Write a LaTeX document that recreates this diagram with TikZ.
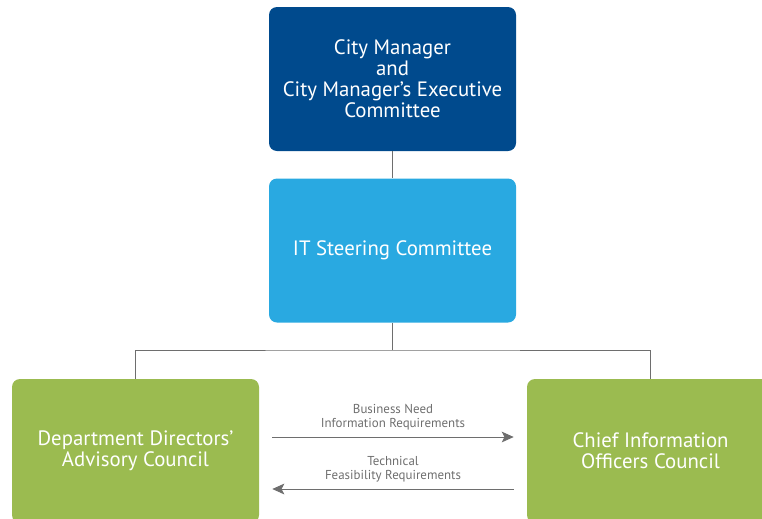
\documentclass[tikz,border=0pt]{standalone}
\usepackage{fontspec}
\setmainfont{PT Sans}
\usetikzlibrary{arrows.meta,positioning}
\definecolor{mgrblue}{HTML}{004A8D}
\definecolor{stcblue}{HTML}{29A9E1}
\definecolor{cclgreen}{HTML}{9BBB50}
\definecolor{linegray}{HTML}{6E6E6E}

\begin{document}
\begin{tikzpicture}[x=0.75pt, y=-0.75pt,
box/.style={rounded corners=6pt, minimum width=185.25pt, minimum height=108pt, align=center, text=white, font=\fontsize{15.6}{15.75}\selectfont, inner sep=0pt},
link/.style={draw=linegray, line width=0.75pt},
flow/.style={link, -{Stealth[length=9pt, width=8pt, inset=2pt]}, shorten >=9.75pt, shorten <=9.75pt},
tag/.style={text=linegray, font=\fontsize{9.7}{10.5}\selectfont, align=center, inner sep=0pt}]
\useasboundingbox (0,0) rectangle (762,518);
\clip (0,0) rectangle (762,518);

\node[box, fill=mgrblue] (cm) at (392.5,79) {City Manager\\and\\City Manager’s Executive\\Committee};
\node[box, fill=stcblue] (itsc) at (392.5,250.5) {IT Steering Committee};
\node[box, fill=cclgreen] (ddac) at (135.5,451) {Department Directors’\\Advisory Council};
\node[box, fill=cclgreen] (cioc) at (650.5,451) {Chief Information\\Officers Council};

\coordinate (bus) at (392.5,350);

\draw[link] (cm) -- (itsc);
\draw[link] (itsc) -- (bus);
\draw[link] (ddac.north) |- (bus) -| (cioc.north);

\draw[flow] ([yshift=10.5pt]ddac.east) -- ([yshift=10.5pt]cioc.west)
node[tag, midway, above=5pt] {Business Need\\Information Requirements};
\draw[flow] ([yshift=-28.5pt]cioc.west) -- ([yshift=-28.5pt]ddac.east)
node[tag, midway, above=5pt] {Technical\\Feasibility Requirements};
\end{tikzpicture}
\end{document}
